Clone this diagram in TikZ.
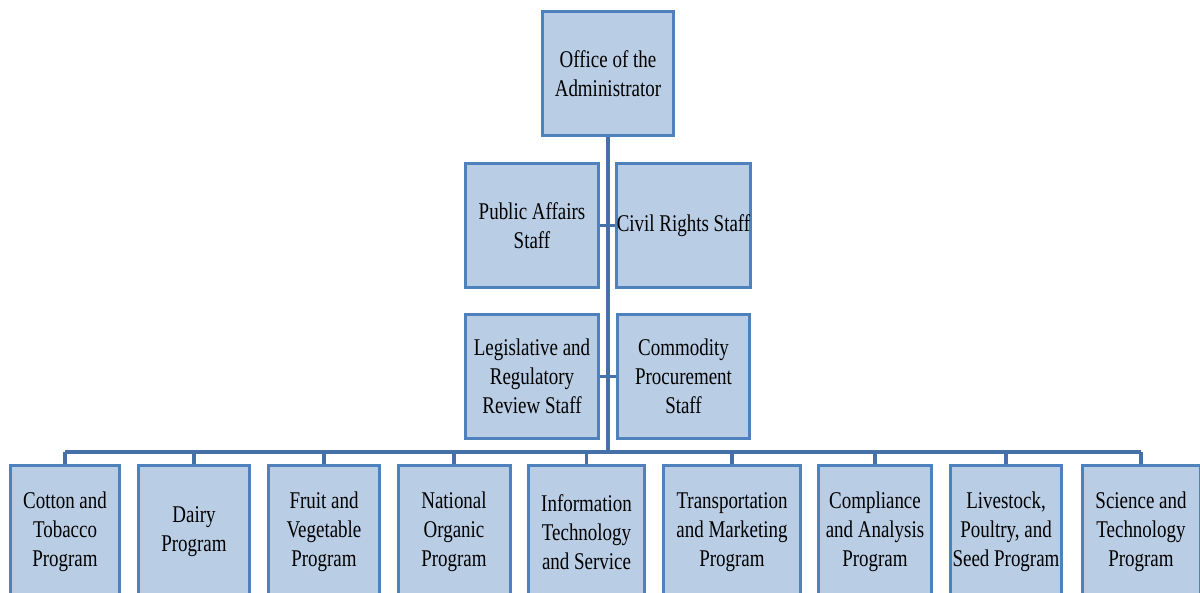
\documentclass[tikz,border=0pt]{standalone}
\usepackage{fontspec}
\setmainfont[FakeStretch=0.79]{Liberation Serif}
\definecolor{boxline}{HTML}{4F81BD}
\definecolor{boxfill}{HTML}{B9CDE5}
\definecolor{conn}{HTML}{4670A8}
\begin{document}
\begin{tikzpicture}[x=1pt,y=-1pt,
  orgbox/.style={draw=boxline,fill=boxfill,line width=3pt,inner sep=0pt,
    align=center,font=\fontsize{24}{29}\selectfont,text=black},
  wire/.style={draw=conn,line width=3.4pt}]
\useasboundingbox (0,0) rectangle (1200,592);
\clip (0,0) rectangle (1200,592);
% top
\node[orgbox,minimum width=131pt,minimum height=124pt] (adm) at (608,73.5) {Office of the\\Administrator};
% row 2
\node[orgbox,minimum width=133pt,minimum height=124pt] (pa) at (532,225.5) {Public Affairs\\Staff};
\node[orgbox,minimum width=132pt,minimum height=124pt] (cr) at (683.5,225.5) {Civil Rights Staff};
% row 3
\node[orgbox,minimum width=133pt,minimum height=124pt] (lr) at (532,376.5) {Legislative and\\Regulatory\\Review Staff};
\node[orgbox,minimum width=132pt,minimum height=124pt] (cp) at (683.5,376.5) {Commodity\\Procurement\\Staff};
% bottom row
\tikzset{bot/.style={orgbox,minimum height=133pt}}
\node[bot,minimum width=109pt] (ct) at (65,532) {Cotton and\\Tobacco\\Program};
\node[bot,minimum width=111pt] (dy) at (194,532) {Dairy\\Program};
\node[bot,minimum width=111pt] (fv) at (324,532) {Fruit and\\Vegetable\\Program};
\node[bot,minimum width=112pt] (no) at (454,532) {National\\Organic\\Program};
\node[bot,minimum width=116pt] (it) at (586.5,532) {Information\\Technology\\and Service};
\node[bot,minimum width=137pt] (tm) at (732,532) {Transportation\\and Marketing\\Program};
\node[bot,minimum width=113pt] (ca) at (875,532) {Compliance\\and Analysis\\Program};
\node[bot,minimum width=111pt] (lp) at (1006,532) {Livestock,\\Poultry, and\\Seed Program};
\node[bot,minimum width=118pt] (st) at (1141,532) {Science and\\Technology\\Program};
% connectors
\coordinate (bus) at (608,452);
\draw[wire] (adm.south) -- (bus);
\draw[wire] (pa.east) -- (cr.west);
\draw[wire] (lr.east) -- (cp.west);
\draw[wire] (ct.north |- bus) -- (st.north |- bus);
\foreach \n in {ct,dy,fv,no,it,tm,ca,lp,st}{
  \draw[wire] (\n.north |- bus) -- (\n.north);
}
\end{tikzpicture}
\end{document}
